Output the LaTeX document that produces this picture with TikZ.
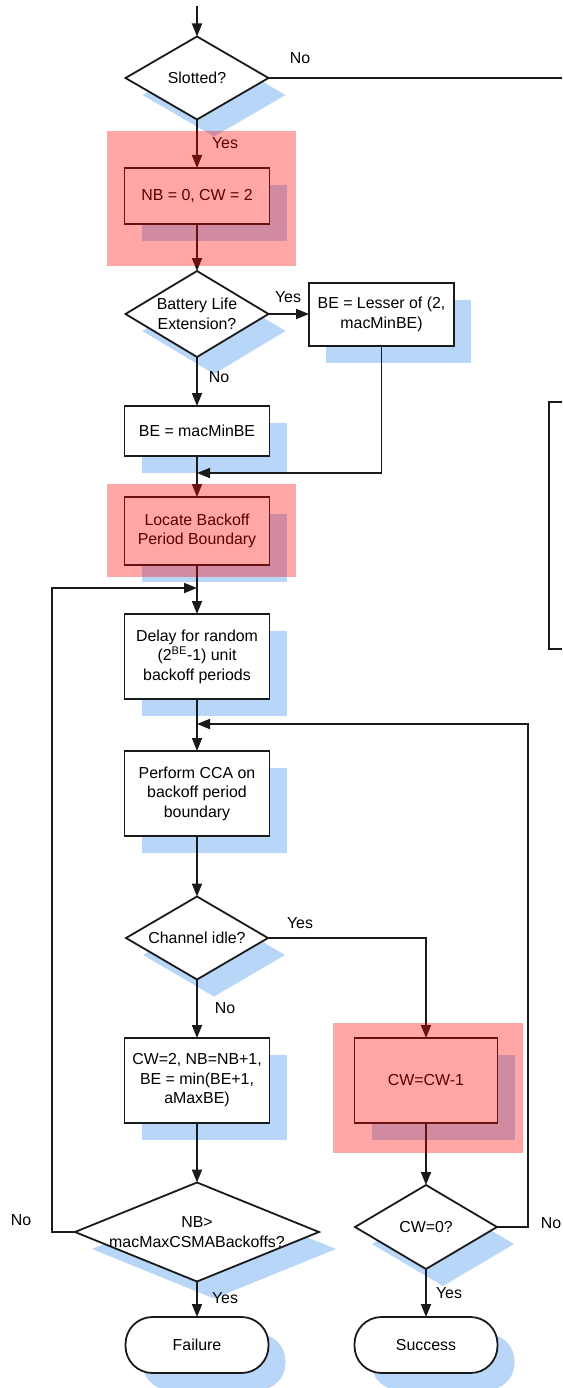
\documentclass[tikz,border=0pt]{standalone}
\usepackage{fontspec}
\setmainfont{Liberation Sans}
\usetikzlibrary{shapes.geometric,shadows,arrows.meta}
\definecolor{shblue}{RGB}{184,214,247}
\definecolor{ink}{RGB}{26,26,26}
\begin{document}
\begin{tikzpicture}[x=1pt,y=-1pt,
  font=\fontsize{15.9}{19.5}\selectfont,
  every node/.style={inner sep=0pt,outer sep=0pt},
  blueshadow/.style={drop shadow={shadow xshift=17pt,shadow yshift=-17pt,fill=shblue,opacity=1}},
  proc/.style={draw=ink,line width=1.8pt,fill=white,blueshadow,minimum width=145pt,align=center},
  dia/.style={diamond,draw=ink,line width=1.8pt,fill=white,blueshadow},
  term/.style={draw=ink,line width=1.8pt,fill=white,blueshadow,rounded corners=27pt,minimum width=143pt,minimum height=56pt},
  dtext/.style={align=center},
  lbl/.style={text height=11pt,text depth=0pt},
  ln/.style={draw=ink,line width=1.8pt},
  arr/.style={ln,-{Triangle[length=13pt,width=10pt]}},
  hl/.style={fill=red,fill opacity=0.35,draw=none}]
\useasboundingbox (0,0) rectangle (562,1388);
\fill[white] (0,0) rectangle (562,1388);

% decisions and process steps
\node[dia,minimum width=143pt,minimum height=83pt] (slot) at (197,78) {};
\node[dtext] (slot-t) at (slot) {Slotted?};
\node[proc,minimum height=56pt] (nb0) at (197,196) {NB = 0, CW = 2};
\node[dia,minimum width=143pt,minimum height=86pt] (bat) at (197,314) {};
\node[dtext] (bat-t) at (bat) {Battery Life\\Extension?};
\node[proc,minimum height=63pt] (beless) at (381.5,314.5) {BE = Lesser of (2,\\macMinBE)};
\node[proc,minimum height=50pt] (bemin) at (197,431) {BE = macMinBE};
\node[proc,minimum height=68pt] (locate) at (197,531) {Locate Backoff\\Period Boundary};
\node[proc,minimum height=85pt] (delay) at (197,656.5) {Delay for random\\(2\textsuperscript{BE}-1) unit\\backoff periods};
\node[proc,minimum height=85pt] (cca) at (197,793.5) {Perform CCA on\\backoff period\\boundary};
\node[dia,minimum width=142pt,minimum height=83pt] (idle) at (197,938) {};
\node[dtext] (idle-t) at (idle) {Channel idle?};
\node[proc,minimum height=85pt] (cw2) at (197,1080.5) {CW=2, NB=NB+1,\\BE = min(BE+1,\\aMaxBE)};
\node[proc,minimum width=143pt,minimum height=85pt] (cwdec) at (426,1080.5) {CW=CW-1};
\node[dia,minimum width=244pt,minimum height=99pt] (nbmax) at (197,1232) {};
\node[dtext] (nbmax-t) at (nbmax) {NB>\\macMaxCSMABackoffs?};
\node[dia,minimum width=142pt,minimum height=84pt] (cw0) at (426,1227) {};
\node[dtext] (cw0-t) at (cw0) {CW=0?};
\node[term] (fail) at (197,1345) {Failure};
\node[term] (succ) at (426,1345) {Success};

% junction points
\coordinate (top) at (197,6);
\coordinate (slotno) at (562,78);
\coordinate (m1) at (197,473);
\coordinate (m2) at (197,588);
\coordinate (m3) at (197,724);
\coordinate (lp) at (52,588);
\coordinate (rp) at (528,724);

% connectors
\draw[arr] (top) -- (slot.north);
\draw[ln] (slot.east) -- (slotno);
\draw[arr] (slot.south) -- (nb0.north);
\draw[arr] (nb0.south) -- (bat.north);
\draw[arr] (bat.east) -- (bat.east -| beless.west);
\draw[arr] (bat.south) -- (bemin.north);
\draw[arr] (beless.south) |- (m1);
\draw[arr] (bemin.south) -- (locate.north);
\draw[arr] (locate.south) -- (delay.north);
\draw[arr] (nbmax.west) -| (lp) -- (m2);
\draw[arr] (delay.south) -- (cca.north);
\draw[arr] (cw0.east) -| (rp) -- (m3);
\draw[arr] (cca.south) -- (idle.north);
\draw[arr] (idle.east) -| (cwdec.north);
\draw[arr] (idle.south) -- (cw2.north);
\draw[arr] (cw2.south) -- (nbmax.north);
\draw[arr] (cwdec.south) -- (cw0.north);
\draw[arr] (nbmax.south) -- (fail.north);
\draw[arr] (cw0.south) -- (succ.north);

% branch labels
\node[lbl] (l1) at (300,58) {No};
\node[lbl] (l2) at (225,143) {Yes};
\node[lbl] (l3) at (288,297) {Yes};
\node[lbl] (l4) at (219,377) {No};
\node[lbl] (l5) at (300,923) {Yes};
\node[lbl] (l6) at (225,1008) {No};
\node[lbl] (l7) at (21,1220) {No};
\node[lbl] (l8) at (551,1223) {No};
\node[lbl] (l9) at (225,1298) {Yes};
\node[lbl] (l10) at (449,1293) {Yes};

% box at the right edge
\draw[ln] (562,402) -| (549,649) -- (562,649);

% highlighted steps
\fill[hl] (107,131) rectangle (296,266);
\fill[hl] (107,484) rectangle (296,577);
\fill[hl] (333,1023) rectangle (523,1153);
\end{tikzpicture}
\end{document}
